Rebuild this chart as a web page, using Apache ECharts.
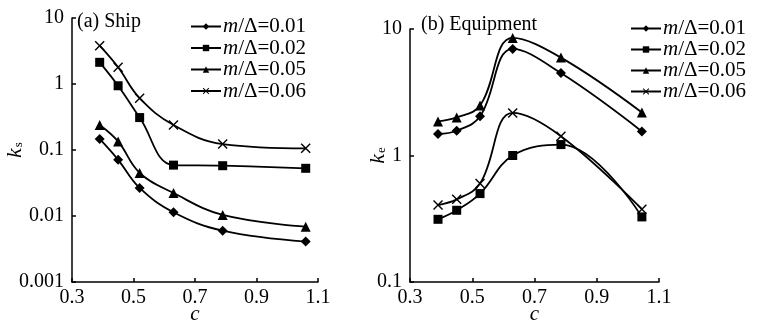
<!DOCTYPE html>
<html>
<head>
<meta charset="utf-8">
<script src="https://cdn.jsdelivr.net/npm/echarts@6/dist/echarts.min.js"></script>
<style>
  html, body { margin: 0; padding: 0; background: #fff; }
  #chart { width: 759px; height: 326px; }
</style>
</head>
<body>
<div id="chart"></div>
<script>
const shipC = [0.39, 0.45, 0.52, 0.63, 0.79, 1.06];
const ship001 = [0.147, 0.071, 0.0266, 0.0114, 0.0060, 0.0041];
const ship002 = [2.13, 0.94, 0.31, 0.059, 0.0578, 0.0528];
const ship005 = [0.24, 0.135, 0.045, 0.0223, 0.0104, 0.0069];
const ship006 = [3.8, 1.79, 0.61, 0.239, 0.123, 0.106];

const equipC = [0.39, 0.45, 0.525, 0.63, 0.785, 1.045];
const equip001 = [1.48, 1.57, 2.04, 6.96, 4.48, 1.55];
const equip002 = [0.313, 0.369, 0.50, 1.0, 1.22, 0.327];
const equip005 = [1.86, 2.0, 2.48, 8.5, 5.94, 2.19];
const equip006 = [0.406, 0.45, 0.60, 2.17, 1.42, 0.376];

const seriesNames = ["m/Δ=0.01", "m/Δ=0.02", "m/Δ=0.05", "m/Δ=0.06"];
const panelTitles = ["(a) Ship", "(b) Equipment"];

const FONT = "'Liberation Serif', 'DejaVu Serif', serif";
const crossPath = "path://M0,1L1,0L5,4L9,0L10,1L6,5L10,9L9,10L5,6L1,10L0,9L4,5Z";
const symbols = ["diamond", "rect", "triangle", crossPath];
const symbolSizes = [10, 9, 10, 10];

const chart = echarts.init(document.getElementById("chart"));

function pairs(xs, ys) {
  return xs.map((x, i) => [x, ys[i]]);
}

function makeSeries(xs, groups, axisIndex) {
  return groups.map((ys, k) => ({
    name: seriesNames[k],
    type: "line",
    xAxisIndex: axisIndex,
    yAxisIndex: axisIndex,
    data: pairs(xs, ys),
    smooth: 0.4,
    symbol: symbols[k],
    symbolSize: symbolSizes[k],
    lineStyle: { color: "#000", width: 1.8 },
    itemStyle: { color: "#000" },
    emphasis: { disabled: true }
  }));
}

const labelStyle = { color: "#000", fontFamily: FONT, fontSize: 20 };

function xAxis(gridIndex) {
  return {
    type: "value",
    gridIndex,
    min: 0.3,
    max: 1.1,
    interval: 0.2,
    name: "c",
    nameLocation: "middle",
    nameGap: 22,
    nameMoveOverlap: false,
    nameTextStyle: { color: "#000", fontFamily: FONT, fontSize: 21, fontStyle: "italic" },
    axisLine: { lineStyle: { color: "#000", width: 1.5 } },
    axisTick: { inside: true, length: 4, lineStyle: { color: "#000", width: 1.5 } },
    axisLabel: { ...labelStyle, margin: 6, formatter: v => v.toFixed(1) },
    splitLine: { show: false }
  };
}

function yAxis(gridIndex, min, max, sub, gap) {
  return {
    type: "log",
    logBase: 10,
    gridIndex,
    min,
    max,
    name: "{k|k}{s|" + sub + "}",
    nameLocation: "middle",
    nameRotate: 90,
    nameGap: gap,
    nameMoveOverlap: false,
    nameTextStyle: {
      rich: {
        k: { fontFamily: FONT, fontSize: 22, fontStyle: "italic", color: "#000" },
        s: { fontFamily: FONT, fontSize: 13, color: "#000", padding: [8, 0, 0, 1] }
      }
    },
    axisLine: { show: true, lineStyle: { color: "#000", width: 1.5 } },
    axisTick: { inside: true, length: 4, lineStyle: { color: "#000", width: 1.5 } },
    minorTick: { show: false },
    axisLabel: { ...labelStyle, margin: 8, formatter: v => String(+v.toPrecision(3)) },
    splitLine: { show: false }
  };
}

function legend(left, top, gap) {
  return {
    orient: "vertical",
    left,
    top,
    itemWidth: 30,
    itemHeight: 8,
    itemGap: gap,
    data: seriesNames,
    selectedMode: false,
    formatter: name => "{i|m}{n|" + name.slice(1) + "}",
    textStyle: {
      color: "#000",
      fontFamily: FONT,
      fontSize: 21,
      lineHeight: 20,
      padding: [0, 0, 0, -3],
      rich: {
        i: { fontFamily: FONT, fontSize: 21, fontStyle: "italic", color: "#000", lineHeight: 20 },
        n: { fontFamily: FONT, fontSize: 21, color: "#000", lineHeight: 20 }
      }
    }
  };
}

const option = {
  animation: false,
  backgroundColor: "#fff",
  title: [
    { text: panelTitles[0], left: 77, top: 12, textStyle: { fontFamily: FONT, fontSize: 20, fontWeight: "normal", color: "#000" }, padding: 0 },
    { text: panelTitles[1], left: 421, top: 15, textStyle: { fontFamily: FONT, fontSize: 20, fontWeight: "normal", color: "#000" }, padding: 0 }
  ],
  legend: [legend(185, 11, 0.5), legend(625, 13, 0)],
  grid: [
    { left: 72, top: 18, width: 246, height: 264, outerBoundsMode: "none" },
    { left: 410, top: 29, width: 249, height: 253, outerBoundsMode: "none" }
  ],
  xAxis: [xAxis(0), xAxis(1)],
  yAxis: [yAxis(0, 0.001, 10, "s", 46), yAxis(1, 0.1, 10, "e", 21)],
  series: [
    ...makeSeries(shipC, [ship001, ship002, ship005, ship006], 0),
    ...makeSeries(equipC, [equip001, equip002, equip005, equip006], 1)
  ]
};

chart.setOption(option);
</script>
</body>
</html>
